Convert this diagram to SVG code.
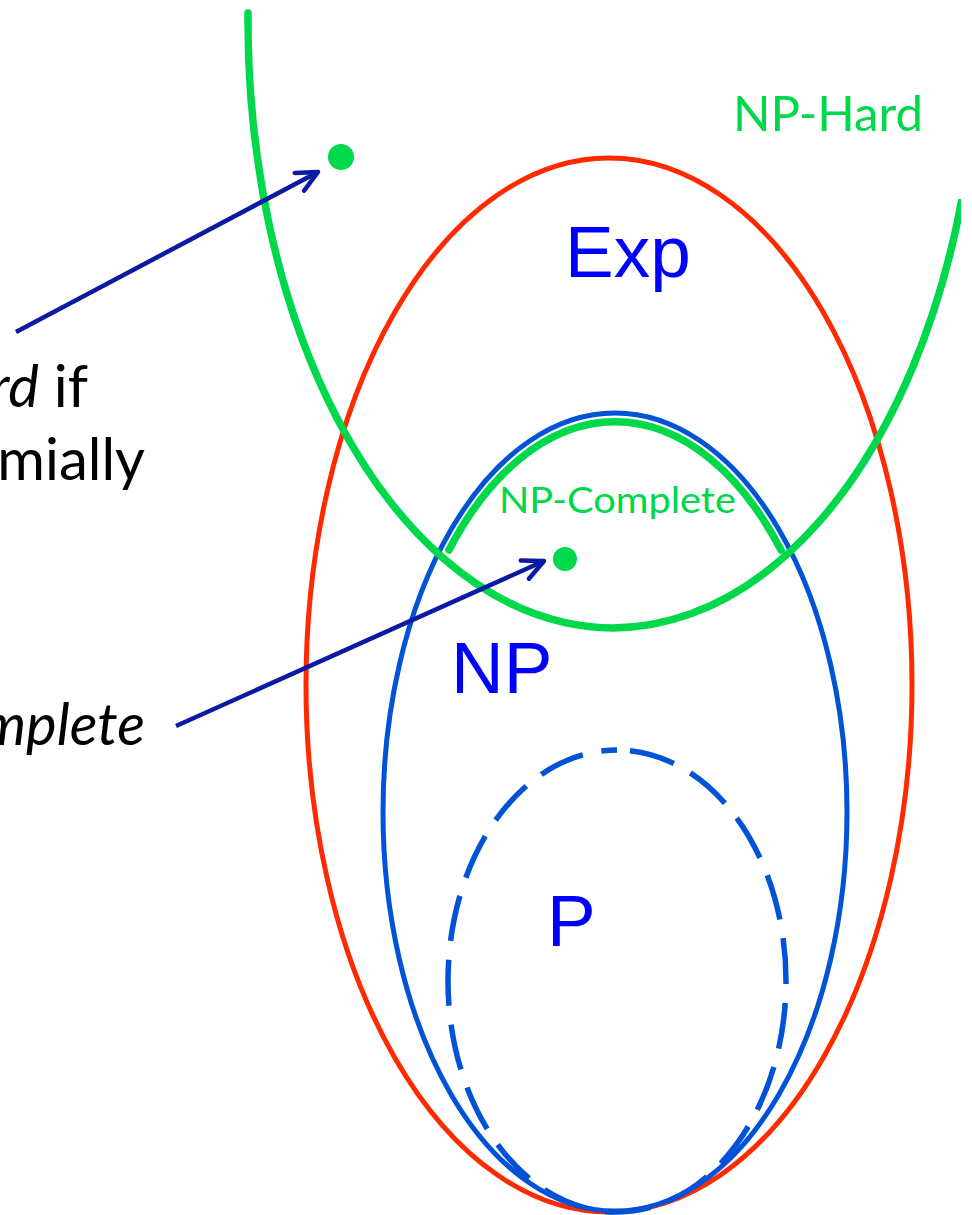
<svg xmlns="http://www.w3.org/2000/svg" width="972" height="1215" viewBox="0 0 972 1215">
<style>
.exp{fill:none;stroke:#ff2a00;stroke-width:5}
.np{fill:none;stroke:#0052d6;stroke-width:5}
.p{fill:none;stroke:#0052d6;stroke-width:5.5;stroke-dasharray:46 19;stroke-dashoffset:52}
.green{fill:none;stroke:#00d84c;stroke-width:7.5;stroke-linecap:round}
.dot{fill:#00d84c}
.arrow{fill:none;stroke:#0a1aa3;stroke-width:4.5}
.big{font-family:"Liberation Sans",Arial,sans-serif;font-size:73px;fill:#0000ff}
.gl{font-family:Lato,"Open Sans",sans-serif;fill:#00d84c}
.bl{font-family:Lato,"Open Sans",sans-serif;fill:#000;font-size:58px}
</style>
<defs>
<marker id="ah" markerUnits="userSpaceOnUse" markerWidth="30" markerHeight="30" viewBox="-25 -15 30 30" refX="0" refY="0" orient="auto">
<path d="M -21 -10 L 0 0 L -21 10" fill="none" stroke="#0a1aa3" stroke-width="4.5" stroke-linecap="round" stroke-linejoin="round"/>
</marker>
<clipPath id="rightcut"><path d="M 0 0 H 900 V 199 H 961 V 1215 H 0 Z"/></clipPath>
</defs>
<g id="exp-set">
<ellipse class="exp" cx="609" cy="685" rx="303" ry="527"/>
<text class="big" x="565" y="277">Exp</text>
</g>
<g id="np-set">
<ellipse class="np" cx="615" cy="812" rx="232" ry="399"/>
<text class="big" x="451" y="693">NP</text>
</g>
<g id="p-set">
<path class="p" d="M 617 750 A 169 231 0 0 1 617 1212 A 169 231 0 0 1 617 750 Z"/>
<text class="big" x="547" y="946">P</text>
</g>
<g id="np-hard">
<path class="green" clip-path="url(#rightcut)" d="M 248 13 A 365 607 0 0 0 966 175"/>
<text class="gl" x="733" y="131" font-size="49" textLength="190" lengthAdjust="spacingAndGlyphs">NP-Hard</text>
</g>
<g id="np-complete">
<path class="green" d="M 449 550 A 224 390 0 0 1 781 550"/>
<text class="gl" x="499" y="513" font-size="37" textLength="237" lengthAdjust="spacingAndGlyphs">NP-Complete</text>
</g>
<g id="connectors">
<line class="arrow" x1="16" y1="332" x2="318" y2="172" marker-end="url(#ah)"/>
<line class="arrow" x1="176" y1="726" x2="544" y2="561" marker-end="url(#ah)"/>
</g>
<g id="points">
<circle class="dot" cx="341" cy="157" r="13"/>
<circle class="dot" cx="565" cy="559" r="12"/>
</g>
<g id="left-labels">
<text class="bl" x="88" y="407" text-anchor="end"><tspan font-style="italic">rd</tspan> if</text>
<text class="bl" x="145" y="480" text-anchor="end">mially</text>
<text class="bl" x="145" y="745" text-anchor="end" font-style="italic">mplete</text>
</g>
</svg>
